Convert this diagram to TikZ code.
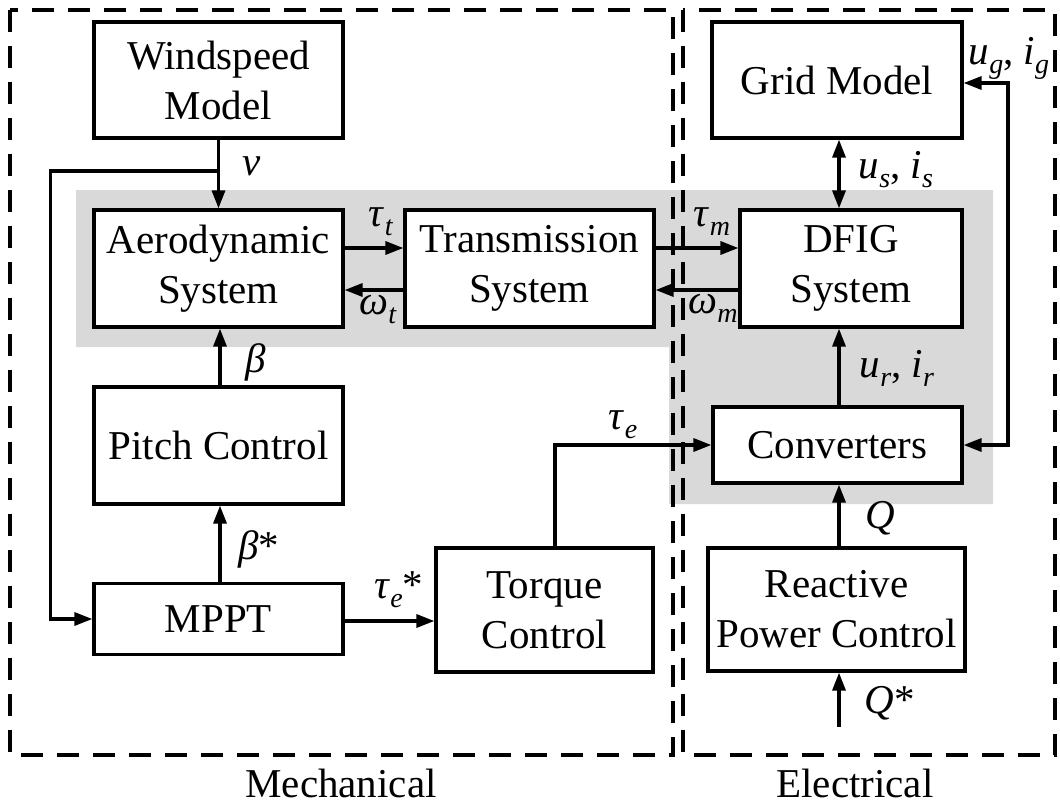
\documentclass[tikz,border=0pt]{standalone}
\usepackage{fontspec}
\setmainfont{Liberation Serif}
\usetikzlibrary{arrows.meta}
\newcommand{\vs}[2]{\textit{#1}\raisebox{-0.22em}{\fontsize{28}{28}\selectfont\textit{#2}}}
\tikzset{
  blk/.style={draw, line width=3.2pt, fill=white, align=center, inner sep=0pt,
    font=\fontsize{41}{50}\selectfont},
  lbl/.style={inner sep=0pt, font=\fontsize{41}{50}\selectfont},
  conn/.style={line width=3.2pt, >={Triangle[length=18pt,width=13pt]}},
  grp/.style={line width=3.2pt, dash pattern=on 22pt off 14pt},
}
\begin{document}
\begin{tikzpicture}[x=1pt,y=-1pt]
\useasboundingbox (0,0) rectangle (1060,806);
% gray region
\fill[gray!30] (76,190) -- (993,190) -- (993,504) -- (669,504) -- (669,347) -- (76,347) -- cycle;
% dashed groups
\draw[grp] (10,10) rectangle (673,755);
\draw[grp] (683,10) rectangle (1055,755);
\node[lbl] (mech) at (341,783) {Mechanical};
\node[lbl] (elec) at (855,783) {Electrical};
% blocks
\node[blk, minimum width=249pt, minimum height=116pt] (wind) at (218.5,80) {Windspeed\\Model};
\node[blk, minimum width=249pt, minimum height=117pt] (aero) at (218.5,268.5) {Aerodynamic\\System};
\node[blk, minimum width=249pt, minimum height=117pt] (trans) at (529.5,268.5) {Transmission\\System};
\node[blk, minimum width=222pt, minimum height=117pt] (dfig) at (851,268.5) {DFIG\\System};
\node[blk, minimum width=250pt, minimum height=116pt] (grid) at (837,80) {Grid Model};
\node[blk, minimum width=249pt, minimum height=76pt] (conv) at (837.5,445) {Converters};
\node[blk, minimum width=257pt, minimum height=123pt] (rpc) at (836.5,609.5) {Reactive\\Power Control};
\node[blk, minimum width=249pt, minimum height=117pt] (pitch) at (218.5,445.5) {Pitch Control};
\node[blk, minimum width=249pt, minimum height=71pt] (mppt) at (218.5,619) {MPPT};
\node[blk, minimum width=217pt, minimum height=124pt] (torque) at (544.5,610) {Torque\\Control};
% coordinates
\coordinate (j) at (218.5,171);
\coordinate (fb) at (50.5,171);
\coordinate (rl) at (1008,83);
% connectors
\draw[conn,->] (wind.south) -- (aero.north);
\draw[conn,->] (j) -- (fb) |- (mppt.west);
\draw[conn,->] ([yshift=20.5pt]aero.east) -- ([yshift=20.5pt]trans.west);
\draw[conn,<-] ([yshift=-21.5pt]aero.east) -- ([yshift=-21.5pt]trans.west);
\draw[conn,->] ([yshift=20.5pt]trans.east) -- ([yshift=20.5pt]dfig.west);
\draw[conn,<-] ([yshift=-21.5pt]trans.east) -- ([yshift=-21.5pt]dfig.west);
\draw[conn,<->] ([xshift=2pt]grid.south) -- ([xshift=2pt]grid.south |- dfig.north);
\draw[conn,->] ([xshift=1.5pt]conv.north) -- ([xshift=1.5pt]conv.north |- dfig.south);
\draw[conn,->] ([xshift=2.5pt]rpc.north) -- ([xshift=2.5pt]rpc.north |- conv.south);
\draw[conn,<-] ([xshift=2.5pt]rpc.south) -- ([xshift=2.5pt,yshift=-54pt]rpc.south);
\draw[conn,<->] (grid.east |- rl) -- (rl) |- (conv.east);
\draw[conn,->] ([xshift=1.5pt]pitch.north) -- ([xshift=1.5pt]pitch.north |- aero.south);
\draw[conn,->] ([xshift=1.5pt]mppt.north) -- ([xshift=1.5pt]mppt.north |- pitch.south);
\draw[conn,->] ([yshift=-2pt]mppt.east) -- ([yshift=-2pt]mppt.east -| torque.west);
\draw[conn,->] ([xshift=10.5pt]torque.north) |- (conv.west);
% labels
\node[lbl] (lv) at (252,166) {\textit{v}};
\node[lbl] (ltt) at (381,222) {\vs{τ}{t}};
\node[lbl] (lwt) at (378,310) {\vs{ω}{t}};
\node[lbl] (ltm) at (712,222) {\vs{τ}{m}};
\node[lbl] (lwm) at (713,308) {\vs{ω}{m}};
\node[lbl] (lus) at (896,170) {\vs{u}{s}, \vs{i}{s}};
\node[lbl] (lug) at (1009,58) {\vs{u}{g}, \vs{i}{g}};
\node[lbl] (lur) at (897,368) {\vs{u}{r}, \vs{i}{r}};
\node[lbl] (lq) at (880,518) {\textit{Q}};
\node[lbl] (lqs) at (890,703) {\textit{Q}*};
\node[lbl] (lb) at (256,362) {\textit{β}};
\node[lbl] (lbs) at (259,549) {\textit{β}*};
\node[lbl] (ltes) at (399,590) {\vs{τ}{e}*};
\node[lbl] (lte) at (623,425) {\vs{τ}{e}};
\end{tikzpicture}
\end{document}
